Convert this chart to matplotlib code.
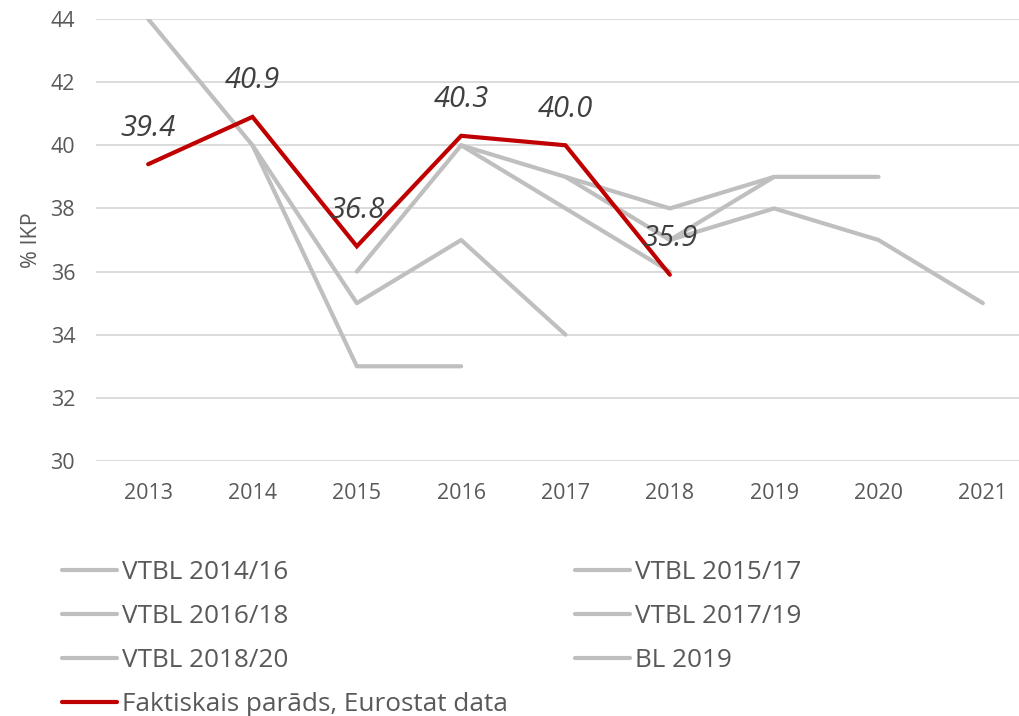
import matplotlib
matplotlib.use("Agg")
import matplotlib.pyplot as plt

years = ["2013", "2014", "2015", "2016", "2017", "2018", "2019", "2020", "2021"]

# forecast vintages: (first year index, values)
vtbl_2014_16 = (0, [44, 40, 33, 33])
vtbl_2015_17 = (1, [40, 35, 37, 34])
vtbl_2016_18 = (2, [36, 40, 38, 36])
vtbl_2017_19 = (3, [40, 39, 38, 39])
vtbl_2018_20 = (4, [39, 37, 39, 39])
bl_2019 = (5, [37, 38, 37, 35])

actual = [39.4, 40.9, 36.8, 40.3, 40.0, 35.9]
actual_labels = ["39.4", "40.9", "36.8", "40.3", "40.0", "35.9"]

plt.rcParams['font.family'] = ['Open Sans', 'DejaVu Sans']

grey = "#BFBFBF"
red = "#C00000"
txt = "#595959"

fig = plt.figure(figsize=(10.2, 7.16), dpi=100)
ax = fig.add_axes([96 / 1020, 1 - 461 / 716, 939 / 1020, 442 / 716])

forecasts = [("VTBL 2014/16", vtbl_2014_16), ("VTBL 2015/17", vtbl_2015_17),
             ("VTBL 2016/18", vtbl_2016_18), ("VTBL 2017/19", vtbl_2017_19),
             ("VTBL 2018/20", vtbl_2018_20), ("BL 2019", bl_2019)]
handles = {}
for name, (start, vals) in forecasts:
    xs = list(range(start, start + len(vals)))
    h, = ax.plot(xs, vals, color=grey, lw=3, solid_capstyle='round',
                 solid_joinstyle='round', zorder=2, label=name)
    handles[name] = h

h, = ax.plot(range(len(actual)), actual, color=red, lw=3, solid_capstyle='round',
             solid_joinstyle='miter', zorder=3, label="Faktiskais parāds, Eurostat data")
handles["Faktiskais parāds, Eurostat data"] = h

for i, (v, lab) in enumerate(zip(actual, actual_labels)):
    ax.annotate(lab, (i, v), xytext=(0, 26), textcoords='offset points',
                ha='center', va='center', fontsize=21, style='italic',
                color="#404040", zorder=4)

ax.set_xlim(-0.5, 8.5)
ax.set_ylim(30, 44)
ax.set_yticks(range(30, 45, 2))
ax.set_xticks(range(len(years)))
ax.set_xticklabels(years)
ax.tick_params(axis='both', length=0, labelsize=15.5, labelcolor=txt)
ax.tick_params(axis='x', pad=16)
ax.tick_params(axis='y', pad=15)
ax.grid(axis='y', color="#D9D9D9", lw=1.3)
ax.set_axisbelow(True)
for s in ax.spines.values():
    s.set_visible(False)
ax.set_ylabel("% IKP", fontsize=15.5, color=txt, labelpad=6)

col1 = ["VTBL 2014/16", "VTBL 2016/18", "VTBL 2018/20", "Faktiskais parāds, Eurostat data"]
col2 = ["VTBL 2015/17", "VTBL 2017/19", "BL 2019"]
for names, x0 in [(col1, 62), (col2, 575)]:
    fig.legend([handles[n] for n in names], names, loc='upper left',
               bbox_to_anchor=(x0 / 1020, 1 - 560 / 716), frameon=False,
               fontsize=18.8, handlelength=2.1, handletextpad=0.2,
               labelspacing=0.73, borderaxespad=0, borderpad=0,
               labelcolor=txt)

fig.savefig("out.png", dpi=100)
